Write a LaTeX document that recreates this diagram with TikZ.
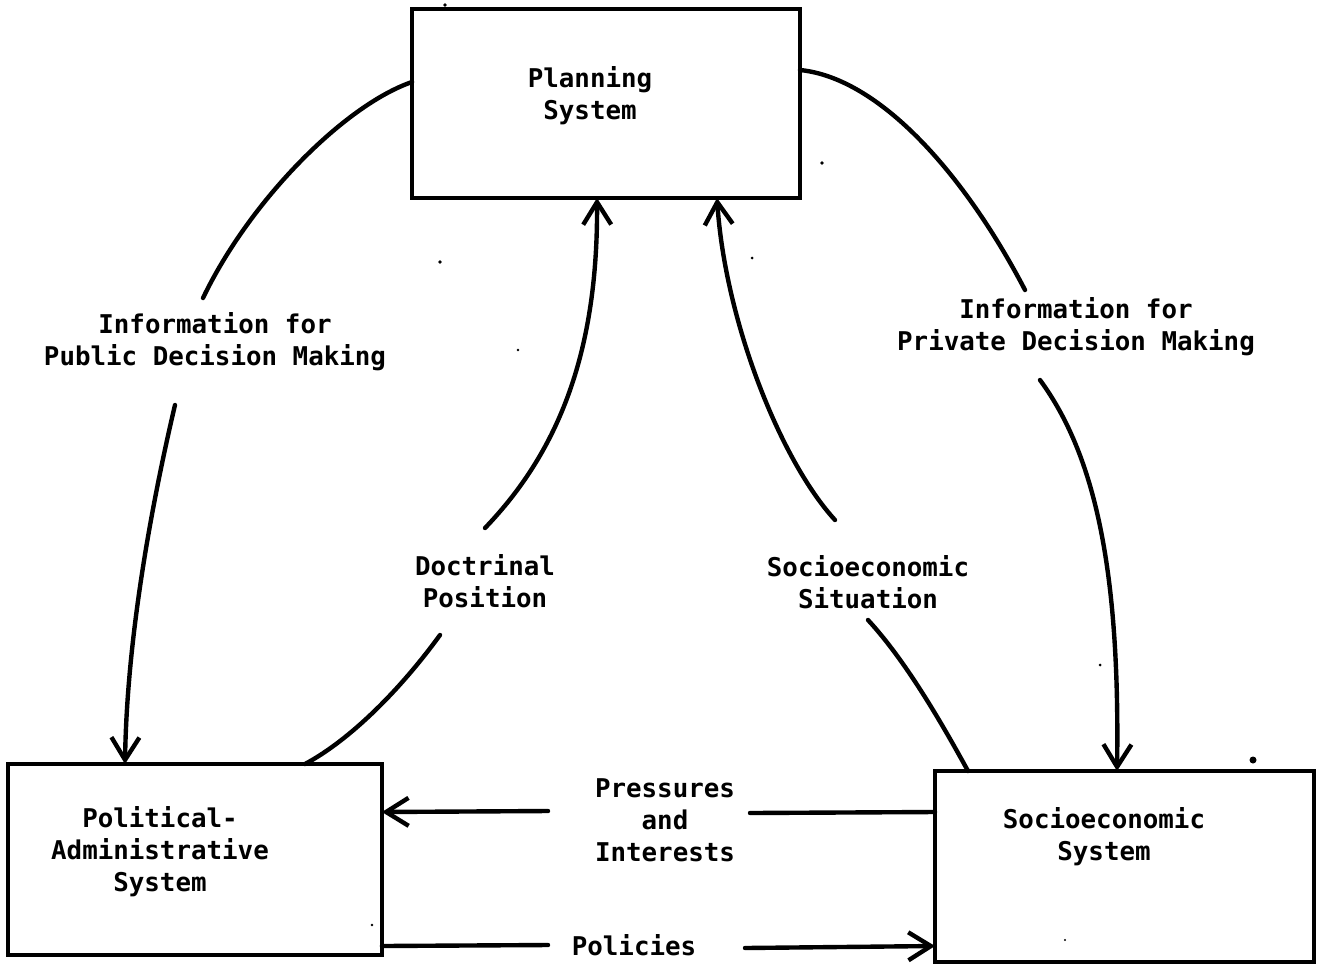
\documentclass[tikz,border=0pt]{standalone}
\usepackage{fontspec}
\newfontfamily\typew{DejaVu Sans Mono}
\usetikzlibrary{arrows.meta}
\begin{document}
\begin{tikzpicture}[x=0.02cm,y=-0.02cm,
  box/.style={draw, line width=2.5pt, inner sep=0pt, outer sep=0pt, anchor=north west},
  lbl/.style={font=\typew\bfseries\fontsize{14.7}{18.2}\selectfont, align=center, inner sep=0pt},
  conn/.style={line width=2.5pt, line cap=round},
  arr/.style={conn, -{Straight Barb[length=0.45cm,width=0.56cm]}},
  speck/.style={fill=black, draw=none}]
\useasboundingbox (0,0) rectangle (1317,967);
% boxes
\node[box, minimum width=7.76cm, minimum height=3.78cm] (plan) at (412,9) {};
\node[box, minimum width=7.48cm, minimum height=3.82cm] (pol) at (8,764) {};
\node[box, minimum width=7.58cm, minimum height=3.82cm] (soc) at (935,771) {};
% box texts
\node[lbl] (plantxt) at (590,96) {Planning\\System};
\node[lbl] (poltxt) at (160,852) {Political-\\Administrative\\System};
\node[lbl] (soctxt) at (1104,837) {Socioeconomic\\System};
% connector labels
\node[lbl] (pubinfo) at (215,342) {Information for\\Public Decision Making};
\node[lbl] (privinfo) at (1076,327) {Information for\\Private Decision Making};
\node[lbl] (doct) at (485,581) {Doctrinal\\Position};
\node[lbl] (situ) at (868,582) {Socioeconomic\\Situation};
\node[lbl] (press) at (665,820) {Pressures\\and\\Interests};
\node[lbl] (polic) at (634,945) {Policies};
% free ends near labels
\coordinate (pubA) at (203,298);
\coordinate (pubB) at (175,405);
\coordinate (privA) at (1025,290);
\coordinate (privB) at (1040,380);
\coordinate (doctA) at (485,528);
\coordinate (doctB) at (440,635);
\coordinate (situA) at (835,520);
\coordinate (situB) at (868,620);
\coordinate (pressL) at (548,811);
\coordinate (pressR) at (750,813);
\coordinate (policL) at (548,945);
\coordinate (policR) at (745,948);
% helper coordinates for anchor heights / positions
\coordinate (h82) at (0,82);
\coordinate (h70) at (0,70);
\coordinate (x125) at (125,0);
\coordinate (x305) at (305,0);
\coordinate (x597) at (597,0);
\coordinate (x717) at (717,0);
\coordinate (x968) at (968,0);
\coordinate (x1117) at (1117,0);
\coordinate (h812) at (0,812);
\coordinate (h946) at (0,946);
% connectors
\draw[conn] (plan.west |- h82) .. controls (345,105) and (250,200) .. (pubA);
\draw[arr] (pubB) .. controls (155,490) and (127,630) .. (pol.north -| x125);
\draw[conn] (plan.east |- h70) .. controls (880,78) and (965,175) .. (privA);
\draw[arr] (privB) .. controls (1095,455) and (1120,570) .. (soc.north -| x1117);
\draw[arr] (doctA) .. controls (560,450) and (598,350) .. (plan.south -| x597);
\draw[conn] (doctB) .. controls (400,690) and (350,740) .. (pol.north -| x305);
\draw[arr] (situA) .. controls (780,460) and (725,320) .. (plan.south -| x717);
\draw[conn] (situB) .. controls (905,660) and (940,720) .. (soc.north -| x968);
\draw[conn] (soc.west |- h812) -- (pressR);
\draw[arr] (pressL) -- (pol.east |- h812);
\draw[conn] (pol.east |- h946) -- (policL);
\draw[arr] (policR) -- (soc.west |- h946);
% specks
\fill[speck] (1253,760) circle (3.5);
\fill[speck] (445,5) circle (1.8);
\fill[speck] (822,163) circle (1.8);
\fill[speck] (440,262) circle (1.8);
\fill[speck] (518,350) circle (1.3);
\fill[speck] (752,258) circle (1.5);
\fill[speck] (1100,665) circle (1.5);
\fill[speck] (372,925) circle (1.3);
\fill[speck] (1065,940) circle (1.2);
\end{tikzpicture}
\end{document}
